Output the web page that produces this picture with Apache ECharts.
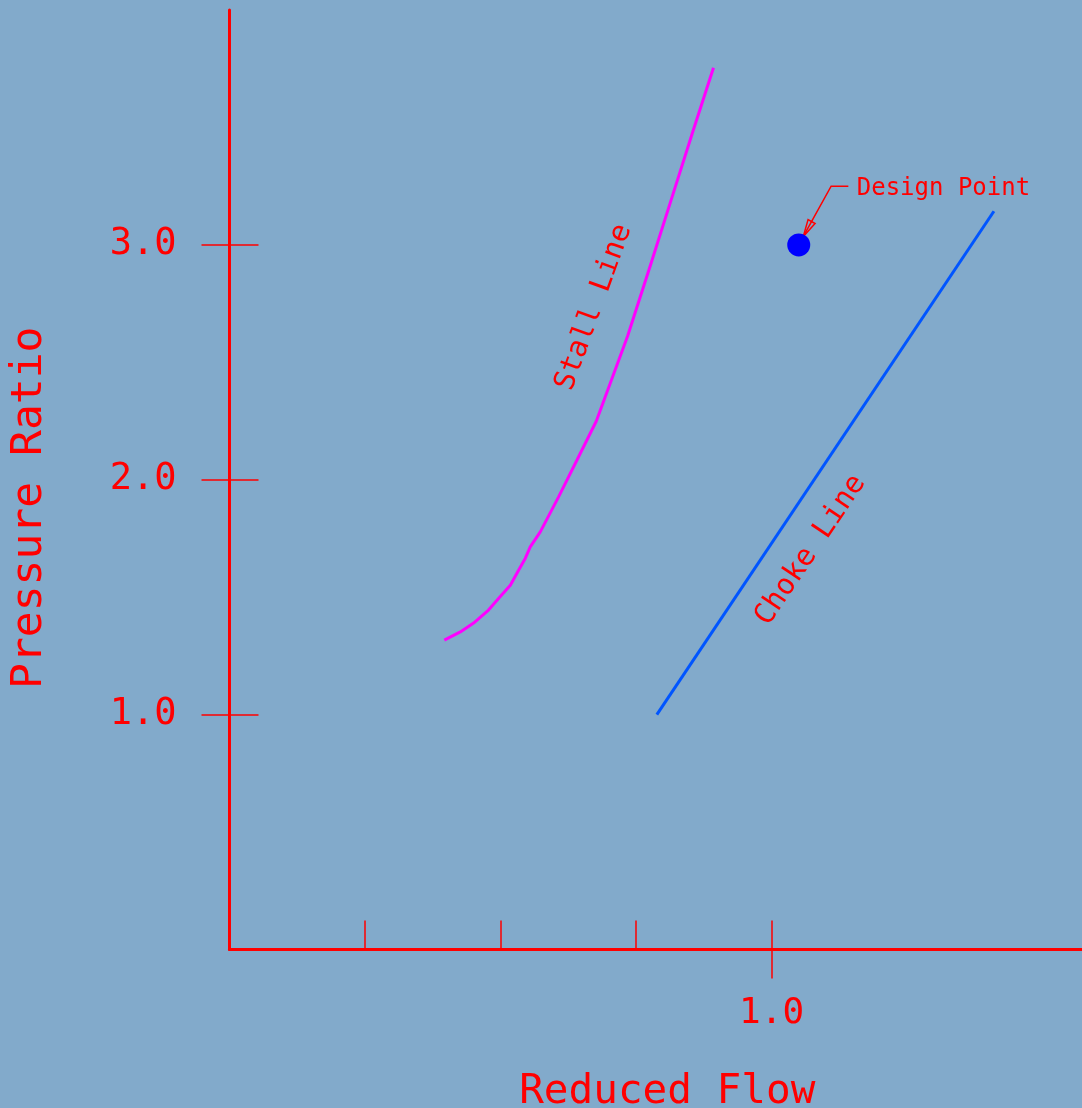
<!DOCTYPE html>
<html>
<head>
<meta charset="utf-8">
<script src="https://cdn.jsdelivr.net/npm/echarts@6/dist/echarts.min.js"></script>
<style>
html,body{margin:0;padding:0;background:#82AACB;}
#chart{width:1082px;height:1108px;}
</style>
</head>
<body>
<div id="chart"></div>
<script>
// ---- data ----
const stallFlow = [0.7585, 0.7703, 0.7801, 0.7911, 0.7998, 0.8072, 0.8133, 0.8182, 0.8219, 0.8293, 0.8428, 0.8563, 0.8706, 0.8937, 0.9104, 0.9288, 0.9423, 0.9571];
const stallPR   = [1.317, 1.352, 1.390, 1.445, 1.503, 1.551, 1.615, 1.665, 1.714, 1.778, 1.927, 2.083, 2.249, 2.611, 2.910, 3.245, 3.490, 3.754];
const chokeFlow = [0.9153, 1.164];
const chokePR   = [1.0, 3.143];
const designPoint = [1.02, 3.0];
const leaderFlow = [1.0234, 1.0439, 1.0566];
const leaderPR   = [3.036, 3.250, 3.250];
const designLabelPos = [1.0628, 3.24];
const stallLabelPos = [0.8690, 2.734];
const chokeLabelPos = [1.0288, 1.700];
const xMinorTicks = [0.7, 0.8, 0.9, 1.0];
const xLabelTicks = [1.0];
const yTicks = [1, 2, 3];
const xRange = [0.6, 1.229];
const yRange = [0, 4];

const RED = '#FF0000';
const FONT = 'DejaVu Sans Mono';

const chart = echarts.init(document.getElementById('chart'));

const baseX = {
  type: 'value', min: xRange[0], max: xRange[1], splitLine: {show: false},
  axisLine: {onZero: false, lineStyle: {color: RED, width: 3}}
};
const baseY = {
  type: 'value', min: yRange[0], max: yRange[1], splitLine: {show: false},
  axisLine: {onZero: false, lineStyle: {color: RED, width: 3}}
};

const option = {
  backgroundColor: '#82AACB',
  animation: false,
  grid: {left: 229.5, right: 0, top: 10, bottom: 158.5, containLabel: false, outerBoundsMode: 'none'},
  xAxis: [
    Object.assign({}, baseX, {
      position: 'bottom',
      axisTick: {show: true, inside: true, length: 29, customValues: xMinorTicks, lineStyle: {color: RED, width: 1.5}},
      axisLabel: {show: false}
    }),
    Object.assign({}, baseX, {
      position: 'bottom',
      axisLine: {show: false},
      axisTick: {show: true, inside: false, length: 29, customValues: xLabelTicks, lineStyle: {color: RED, width: 1.5}},
      axisLabel: {show: true, customValues: xLabelTicks, margin: 46, color: RED, fontFamily: FONT, fontSize: 36,
        formatter: v => v.toFixed(1)},
      name: 'Reduced Flow', nameLocation: 'middle', nameGap: 122,
      nameTextStyle: {color: RED, fontFamily: FONT, fontSize: 41, padding: [0, 0, 0, 23]}
    }),
    Object.assign({}, baseX, {
      position: 'top',
      axisLine: {show: true, lineStyle: {color: RED, width: 1.5}},
      axisTick: {show: false}, axisLabel: {show: false}
    })
  ],
  yAxis: [
    Object.assign({}, baseY, {
      position: 'left',
      axisTick: {show: true, inside: true, length: 29, customValues: yTicks, lineStyle: {color: RED, width: 1.5}},
      axisLabel: {show: false}
    }),
    Object.assign({}, baseY, {
      position: 'left',
      axisLine: {show: false},
      axisTick: {show: true, inside: false, length: 28, customValues: yTicks, lineStyle: {color: RED, width: 1.5}},
      axisLabel: {show: true, customValues: yTicks, margin: 53, color: RED, fontFamily: FONT, fontSize: 37,
        formatter: v => v.toFixed(1), padding: [4, 0, 0, 0]},
      name: 'Pressure Ratio', nameLocation: 'middle', nameGap: 178, nameRotate: 90,
      nameTextStyle: {color: RED, fontFamily: FONT, fontSize: 43, padding: [0, 56, 0, 0]}
    })
  ],
  series: [
    {
      type: 'line', name: 'Stall Line', xAxisIndex: 0, yAxisIndex: 0,
      data: stallFlow.map((f, i) => [f, stallPR[i]]),
      symbol: 'none', lineStyle: {color: '#FF00FF', width: 3}
    },
    {
      type: 'line', name: 'Choke Line', xAxisIndex: 0, yAxisIndex: 0,
      data: chokeFlow.map((f, i) => [f, chokePR[i]]),
      symbol: 'none', lineStyle: {color: '#0055FF', width: 3}
    },
    {
      type: 'scatter', name: 'Design Point', xAxisIndex: 0, yAxisIndex: 0,
      data: [designPoint], symbolSize: 23, itemStyle: {color: '#0000FF', opacity: 1}
    },
    {
      type: 'custom', name: 'leader', xAxisIndex: 0, yAxisIndex: 0,
      data: [[leaderFlow[0], leaderPR[0], leaderFlow[1], leaderPR[1], leaderFlow[2], leaderPR[2]]],
      encode: {x: [0, 2, 4], y: [1, 3, 5]},
      renderItem: function (params, api) {
        const p0 = api.coord([api.value(0), api.value(1)]);
        const p1 = api.coord([api.value(2), api.value(3)]);
        const p2 = api.coord([api.value(4), api.value(5)]);
        const dx = p1[0] - p0[0], dy = p1[1] - p0[1];
        const len = Math.sqrt(dx * dx + dy * dy);
        const ux = dx / len, uy = dy / len;
        const nx = -uy, ny = ux;
        const bx = p0[0] + ux * 17, by = p0[1] + uy * 17;
        const style = {stroke: RED, lineWidth: 1.5, fill: null};
        return {
          type: 'group',
          children: [
            {type: 'polyline', shape: {points: [p0, p1, p2]}, style: style},
            {type: 'polygon', shape: {points: [p0, [bx + nx * 4, by + ny * 4], [bx - nx * 4, by - ny * 4]]}, style: style}
          ]
        };
      }
    },
    {
      type: 'scatter', name: 'labels', xAxisIndex: 0, yAxisIndex: 0, symbolSize: 0,
      itemStyle: {opacity: 1},
      data: [
        {value: stallLabelPos, name: 'Stall Line', label: {rotate: 70}},
        {value: chokeLabelPos, name: 'Choke Line', label: {rotate: 56}}
      ],
      label: {show: true, position: 'inside', formatter: '{b}', color: RED, opacity: 1, fontFamily: FONT, fontSize: 29,
        align: 'center', verticalAlign: 'middle'},
      emphasis: {disabled: true}
    },
    {
      type: 'scatter', name: 'designLabel', xAxisIndex: 0, yAxisIndex: 0, symbolSize: 0,
      itemStyle: {opacity: 1},
      data: [{value: designLabelPos, name: 'Design Point'}],
      label: {show: true, position: 'inside', formatter: '{b}', color: RED, opacity: 1, fontFamily: FONT, fontSize: 24,
        align: 'left', verticalAlign: 'middle'},
      emphasis: {disabled: true}
    }
  ]
};
chart.setOption(option);
</script>
</body>
</html>
